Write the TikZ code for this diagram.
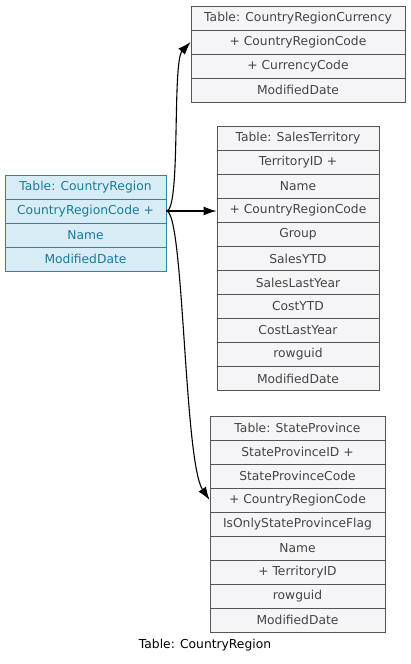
\documentclass[tikz,border=0pt]{standalone}
\usepackage{fontspec}
\setmainfont{DejaVu Sans}
\usetikzlibrary{arrows.meta}
\definecolor{gfill}{HTML}{F5F5F7}
\definecolor{gline}{HTML}{555555}
\definecolor{gtext}{HTML}{444444}
\definecolor{bfill}{HTML}{D8ECF6}
\definecolor{bline}{HTML}{2F82A3}
\definecolor{btext}{HTML}{1A7A9C}
\tikzset{
  cell/.style={draw=gline, fill=gfill, text=gtext, line width=0.9pt, minimum height=24pt, inner sep=0pt, font=\fontsize{12.3}{14}\selectfont},
  bcell/.style={cell, draw=bline, fill=bfill, text=btext},
  link/.style={line width=1.1pt, -{Latex[length=13pt,width=9pt]}},
}
\begin{document}
\begin{tikzpicture}[x=1pt,y=-1pt]
\useasboundingbox (0,0) rectangle (411,664);
% CountryRegion
\begin{scope}[every node/.style={bcell, minimum width=161pt}]
\node (cr0) at (85.5,187) {Table: CountryRegion};
\node (cr1) at (85.5,211) {CountryRegionCode +};
\node (cr2) at (85.5,235) {Name};
\node (cr3) at (85.5,259) {ModifiedDate};
\end{scope}
% CountryRegionCurrency
\begin{scope}[every node/.style={cell, minimum width=214pt}]
\node (crc0) at (298,18) {Table: CountryRegionCurrency};
\node (crc1) at (298,42) {+ CountryRegionCode};
\node (crc2) at (298,66) {+ CurrencyCode};
\node (crc3) at (298,90) {ModifiedDate};
\end{scope}
% SalesTerritory
\begin{scope}[every node/.style={cell, minimum width=162pt}]
\node (st0) at (298,138.5) {Table: SalesTerritory};
\node (st1) at (298,162.5) {TerritoryID +};
\node (st2) at (298,186.5) {Name};
\node (st3) at (298,210.5) {+ CountryRegionCode};
\node (st4) at (298,234.5) {Group};
\node (st5) at (298,258.5) {SalesYTD};
\node (st6) at (298,282.5) {SalesLastYear};
\node (st7) at (298,306.5) {CostYTD};
\node (st8) at (298,330.5) {CostLastYear};
\node (st9) at (298,354.5) {rowguid};
\node (st10) at (298,378.5) {ModifiedDate};
\end{scope}
% StateProvince
\begin{scope}[every node/.style={cell, minimum width=175pt}]
\node (sp0) at (297.5,428) {Table: StateProvince};
\node (sp1) at (297.5,452) {StateProvinceID +};
\node (sp2) at (297.5,476) {StateProvinceCode};
\node (sp3) at (297.5,500) {+ CountryRegionCode};
\node (sp4) at (297.5,524) {IsOnlyStateProvinceFlag};
\node (sp5) at (297.5,548) {Name};
\node (sp6) at (297.5,572) {+ TerritoryID};
\node (sp7) at (297.5,596) {rowguid};
\node (sp8) at (297.5,620) {ModifiedDate};
\end{scope}
% links
\draw[link] (cr1.east) .. controls (181,211) and (172,62) .. (crc1.west);
\draw[link] (cr1.east) -- (st3.west |- cr1.east);
\draw[link] (cr1.east) .. controls (184,211) and (184,462) .. (sp3.west);
% caption
\node[font=\fontsize{12.3}{14}\selectfont, text=black, inner sep=0pt] (cap) at (205,645) {Table: CountryRegion};
\end{tikzpicture}
\end{document}
